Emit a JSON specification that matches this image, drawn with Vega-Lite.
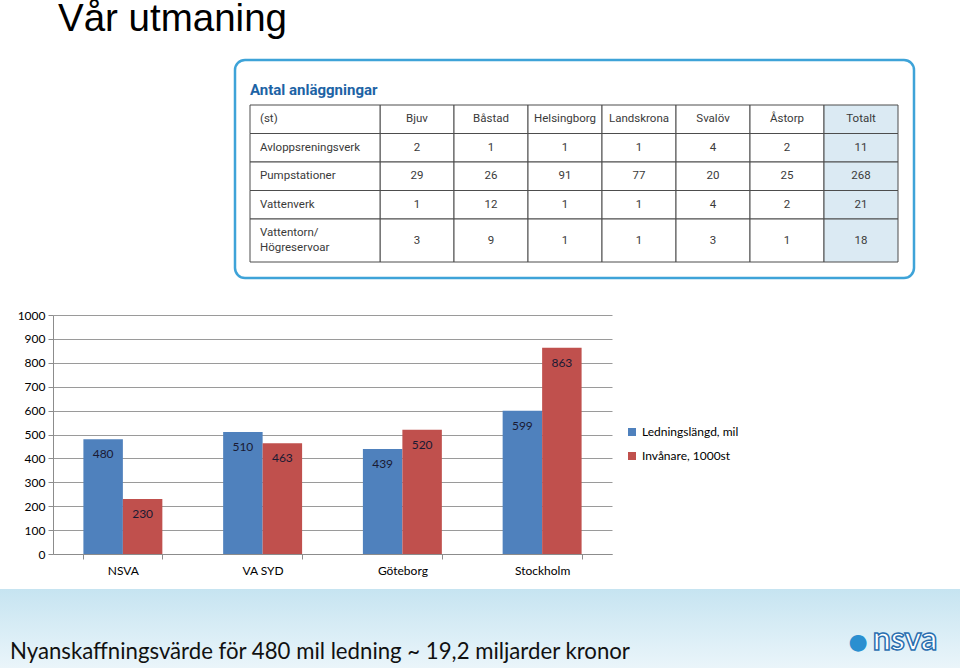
{
  "$schema": "https://vega.github.io/schema/vega-lite/v6.json",
  "padding": 0,
  "background": "white",
  "spacing": 0,
  "title": {"text": "Vår utmaning", "anchor": "start", "dx": 58, "dy": 5, "fontSize": 38.5, "font": "Liberation Sans", "fontWeight": "normal", "color": "#000000", "offset": 24},
  "config": {"view": {"stroke": null}, "font": "Lato"},
  "datasets": {
    "cells": [
      {"r": "(st)", "c": "Bjuv", "v": "Bjuv"},
      {"r": "(st)", "c": "Båstad", "v": "Båstad"},
      {"r": "(st)", "c": "Helsingborg", "v": "Helsingborg"},
      {"r": "(st)", "c": "Landskrona", "v": "Landskrona"},
      {"r": "(st)", "c": "Svalöv", "v": "Svalöv"},
      {"r": "(st)", "c": "Åstorp", "v": "Åstorp"},
      {"r": "(st)", "c": "Totalt", "v": "Totalt"},
      {"r": "Avloppsreningsverk", "c": "Bjuv", "v": "2"},
      {"r": "Avloppsreningsverk", "c": "Båstad", "v": "1"},
      {"r": "Avloppsreningsverk", "c": "Helsingborg", "v": "1"},
      {"r": "Avloppsreningsverk", "c": "Landskrona", "v": "1"},
      {"r": "Avloppsreningsverk", "c": "Svalöv", "v": "4"},
      {"r": "Avloppsreningsverk", "c": "Åstorp", "v": "2"},
      {"r": "Avloppsreningsverk", "c": "Totalt", "v": "11"},
      {"r": "Pumpstationer", "c": "Bjuv", "v": "29"},
      {"r": "Pumpstationer", "c": "Båstad", "v": "26"},
      {"r": "Pumpstationer", "c": "Helsingborg", "v": "91"},
      {"r": "Pumpstationer", "c": "Landskrona", "v": "77"},
      {"r": "Pumpstationer", "c": "Svalöv", "v": "20"},
      {"r": "Pumpstationer", "c": "Åstorp", "v": "25"},
      {"r": "Pumpstationer", "c": "Totalt", "v": "268"},
      {"r": "Vattenverk", "c": "Bjuv", "v": "1"},
      {"r": "Vattenverk", "c": "Båstad", "v": "12"},
      {"r": "Vattenverk", "c": "Helsingborg", "v": "1"},
      {"r": "Vattenverk", "c": "Landskrona", "v": "1"},
      {"r": "Vattenverk", "c": "Svalöv", "v": "4"},
      {"r": "Vattenverk", "c": "Åstorp", "v": "2"},
      {"r": "Vattenverk", "c": "Totalt", "v": "21"},
      {"r": "Vattentorn/Högreservoar", "c": "Bjuv", "v": "3"},
      {"r": "Vattentorn/Högreservoar", "c": "Båstad", "v": "9"},
      {"r": "Vattentorn/Högreservoar", "c": "Helsingborg", "v": "1"},
      {"r": "Vattentorn/Högreservoar", "c": "Landskrona", "v": "1"},
      {"r": "Vattentorn/Högreservoar", "c": "Svalöv", "v": "3"},
      {"r": "Vattentorn/Högreservoar", "c": "Åstorp", "v": "1"},
      {"r": "Vattentorn/Högreservoar", "c": "Totalt", "v": "18"}
    ],
    "rows": [
      {"c": "label", "r": "(st)", "label": "(st)"},
      {"c": "label", "r": "Avloppsreningsverk", "label": "Avloppsreningsverk"},
      {"c": "label", "r": "Pumpstationer", "label": "Pumpstationer"},
      {"c": "label", "r": "Vattenverk", "label": "Vattenverk"},
      {"c": "label", "r": "Vattentorn/Högreservoar", "label": "Vattentorn/\nHögreservoar"}
    ],
    "bars": [
      {"org": "NSVA", "serie": "Ledningslängd, mil", "value": 480},
      {"org": "NSVA", "serie": "Invånare, 1000st", "value": 230},
      {"org": "VA SYD", "serie": "Ledningslängd, mil", "value": 510},
      {"org": "VA SYD", "serie": "Invånare, 1000st", "value": 463},
      {"org": "Göteborg", "serie": "Ledningslängd, mil", "value": 439},
      {"org": "Göteborg", "serie": "Invånare, 1000st", "value": 520},
      {"org": "Stockholm", "serie": "Ledningslängd, mil", "value": 599},
      {"org": "Stockholm", "serie": "Invånare, 1000st", "value": 863}
    ],
    "footer": [{"t": "Nyanskaffningsvärde för 480 mil ledning ~ 19,2 miljarder kronor"}],
    "logo": [{"t": "nsva"}],
    "drop": [{"t": "●"}]
  },
  "vconcat": [
    {
      "spacing": 0,
      "hconcat": [
        {"data": {"values": []}, "mark": "point", "width": 233, "height": 249},
        {
          "width": 679,
          "height": 218,
          "view": {"stroke": "#3ea3d8", "strokeWidth": 2.5, "cornerRadius": 10},
          "title": {"text": "Antal anläggningar", "anchor": "start", "dx": 15, "offset": -38, "fontSize": 15, "font": "Roboto", "fontWeight": "bold", "color": "#1d63a5"},
          "layer": [
            {
              "data": {"name": "cells"},
              "transform": [{"filter": "datum.r !== 'Vattentorn/Högreservoar'"}],
              "encoding": {
                "x": {"field": "c", "type": "nominal", "sort": ["Bjuv", "Båstad", "Helsingborg", "Landskrona", "Svalöv", "Åstorp", "Totalt"], "scale": {"domain": ["Bjuv", "Båstad", "Helsingborg", "Landskrona", "Svalöv", "Åstorp", "Totalt"], "range": [145, 663], "paddingInner": 0, "paddingOuter": 0}, "axis": null},
                "y": {"field": "r", "type": "nominal", "scale": {"domain": ["(st)", "Avloppsreningsverk", "Pumpstationer", "Vattenverk"], "range": [45, 159], "paddingInner": 0, "paddingOuter": 0}, "axis": null}
              },
              "layer": [
                {"mark": {"type": "rect", "stroke": "#4d4d4d", "strokeWidth": 1}, "encoding": {"fill": {"condition": {"test": "datum.c === 'Totalt'", "value": "#dbeaf3"}, "value": "#ffffff"}}},
                {"mark": {"type": "text", "font": "Roboto", "fontSize": 11.5, "color": "#3a3a3a"}, "encoding": {"text": {"field": "v", "type": "nominal"}}}
              ]
            },
            {
              "data": {"name": "cells"},
              "transform": [{"filter": "datum.r === 'Vattentorn/Högreservoar'"}],
              "encoding": {
                "x": {"field": "c", "type": "nominal", "sort": ["Bjuv", "Båstad", "Helsingborg", "Landskrona", "Svalöv", "Åstorp", "Totalt"], "scale": {"domain": ["Bjuv", "Båstad", "Helsingborg", "Landskrona", "Svalöv", "Åstorp", "Totalt"], "range": [145, 663], "paddingInner": 0, "paddingOuter": 0}, "axis": null},
                "y": {"field": "r", "type": "nominal", "scale": {"domain": ["Vattentorn/Högreservoar"], "range": [159, 202], "paddingInner": 0, "paddingOuter": 0}, "axis": null}
              },
              "layer": [
                {"mark": {"type": "rect", "stroke": "#4d4d4d", "strokeWidth": 1}, "encoding": {"fill": {"condition": {"test": "datum.c === 'Totalt'", "value": "#dbeaf3"}, "value": "#ffffff"}}},
                {"mark": {"type": "text", "font": "Roboto", "fontSize": 11.5, "color": "#3a3a3a"}, "encoding": {"text": {"field": "v", "type": "nominal"}}}
              ]
            },
            {
              "data": {"name": "rows"},
              "transform": [{"filter": "datum.r !== 'Vattentorn/Högreservoar'"}],
              "encoding": {
                "x": {"field": "c", "type": "nominal", "scale": {"domain": ["label"], "range": [15, 145], "paddingInner": 0, "paddingOuter": 0}, "axis": null},
                "y": {"field": "r", "type": "nominal", "scale": {"domain": ["(st)", "Avloppsreningsverk", "Pumpstationer", "Vattenverk"], "range": [45, 159], "paddingInner": 0, "paddingOuter": 0}, "axis": null}
              },
              "layer": [
                {"mark": {"type": "rect", "fill": "#ffffff", "stroke": "#4d4d4d", "strokeWidth": 1}},
                {"mark": {"type": "text", "font": "Roboto", "fontSize": 11.5, "color": "#3a3a3a", "align": "left", "dx": 10}, "encoding": {"x": {"field": "c", "type": "nominal", "bandPosition": 0, "axis": null}, "text": {"field": "label", "type": "nominal"}}}
              ]
            },
            {
              "data": {"name": "rows"},
              "transform": [{"filter": "datum.r === 'Vattentorn/Högreservoar'"}],
              "encoding": {
                "x": {"field": "c", "type": "nominal", "scale": {"domain": ["label"], "range": [15, 145], "paddingInner": 0, "paddingOuter": 0}, "axis": null},
                "y": {"field": "r", "type": "nominal", "scale": {"domain": ["Vattentorn/Högreservoar"], "range": [159, 202], "paddingInner": 0, "paddingOuter": 0}, "axis": null}
              },
              "layer": [
                {"mark": {"type": "rect", "fill": "#ffffff", "stroke": "#4d4d4d", "strokeWidth": 1}},
                {"mark": {"type": "text", "font": "Roboto", "fontSize": 11.5, "color": "#3a3a3a", "align": "left", "dx": 10, "dy": -7.5, "lineHeight": 15, "lineBreak": "\n"}, "encoding": {"x": {"field": "c", "type": "nominal", "bandPosition": 0, "axis": null}, "text": {"field": "label", "type": "nominal"}}}
              ]
            }
          ],
          "resolve": {"scale": {"x": "independent", "y": "independent"}}
        }
      ]
    },
    {
      "spacing": 0,
      "hconcat": [
        {"data": {"values": []}, "mark": "point", "width": 17, "height": 274},
        {
          "data": {"name": "bars"},
          "width": 559,
          "height": 239,
          "encoding": {
            "x": {"field": "org", "type": "nominal", "sort": ["NSVA", "VA SYD", "Göteborg", "Stockholm"], "scale": {"paddingInner": 0.435, "paddingOuter": 0.2175}, "axis": {"title": null, "labelAngle": 0, "tickBand": "extent", "domainColor": "#8c8c8c", "tickColor": "#8c8c8c", "tickSize": 5, "labelPadding": 6, "labelFont": "Lato", "labelFontSize": 12, "labelColor": "#000000"}},
            "xOffset": {"field": "serie", "type": "nominal", "sort": ["Ledningslängd, mil", "Invånare, 1000st"], "scale": {"paddingInner": 0}},
            "y": {"field": "value", "type": "quantitative", "scale": {"domain": [0, 1000]}, "axis": {"title": null, "format": "d", "values": [0, 100, 200, 300, 400, 500, 600, 700, 800, 900, 1000], "grid": true, "gridColor": "#9a9a9a", "domain": true, "domainColor": "#8c8c8c", "tickColor": "#8c8c8c", "tickSize": 5, "labelPadding": 3, "labelFont": "Lato", "labelFontSize": 12, "labelColor": "#000000"}}
          },
          "layer": [
            {"mark": {"type": "bar"}, "encoding": {"color": {"field": "serie", "type": "nominal", "sort": ["Ledningslängd, mil", "Invånare, 1000st"], "scale": {"domain": ["Ledningslängd, mil", "Invånare, 1000st"], "range": ["#4f81bd", "#c0504d"]}, "legend": {"title": null, "orient": "none", "legendX": 626, "legendY": 366, "symbolType": "square", "symbolSize": 64, "symbolStrokeWidth": 0, "labelFont": "Lato", "labelFontSize": 12, "labelColor": "#000000", "rowPadding": 12}}}},
            {"mark": {"type": "text", "baseline": "middle", "dy": 15, "font": "Lato", "fontSize": 12, "color": "#1a1a33"}, "encoding": {"text": {"field": "value", "type": "quantitative"}}}
          ]
        }
      ]
    },
    {
      "width": 960,
      "height": 79,
      "layer": [
        {"data": {"name": "footer"}, "mark": {"type": "rect", "color": {"gradient": "linear", "x1": 0, "y1": 0, "x2": 0, "y2": 1, "stops": [{"offset": 0, "color": "#c6e4f1"}, {"offset": 1, "color": "#eaf5fa"}]}}, "encoding": {}},
        {"data": {"name": "footer"}, "mark": {"type": "text", "align": "left", "baseline": "alphabetic", "dx": -470, "dy": 30, "font": "Lato", "fontSize": 22.2, "color": "#111111"}, "encoding": {"text": {"field": "t", "type": "nominal"}}},
        {"data": {"name": "drop"}, "mark": {"type": "text", "align": "center", "baseline": "middle", "dx": 378, "dy": 13, "font": "DejaVu Sans", "fontSize": 22, "color": "#2a8fd0"}, "encoding": {"text": {"field": "t", "type": "nominal"}}},
        {"data": {"name": "logo"}, "mark": {"type": "text", "align": "center", "baseline": "middle", "dx": 425, "dy": 11, "font": "Lato", "fontWeight": "bold", "fontSize": 32, "fill": "#ffffff", "stroke": "#2a6fb0", "strokeWidth": 1.5}, "encoding": {"text": {"field": "t", "type": "nominal"}}}
      ]
    }
  ]
}
